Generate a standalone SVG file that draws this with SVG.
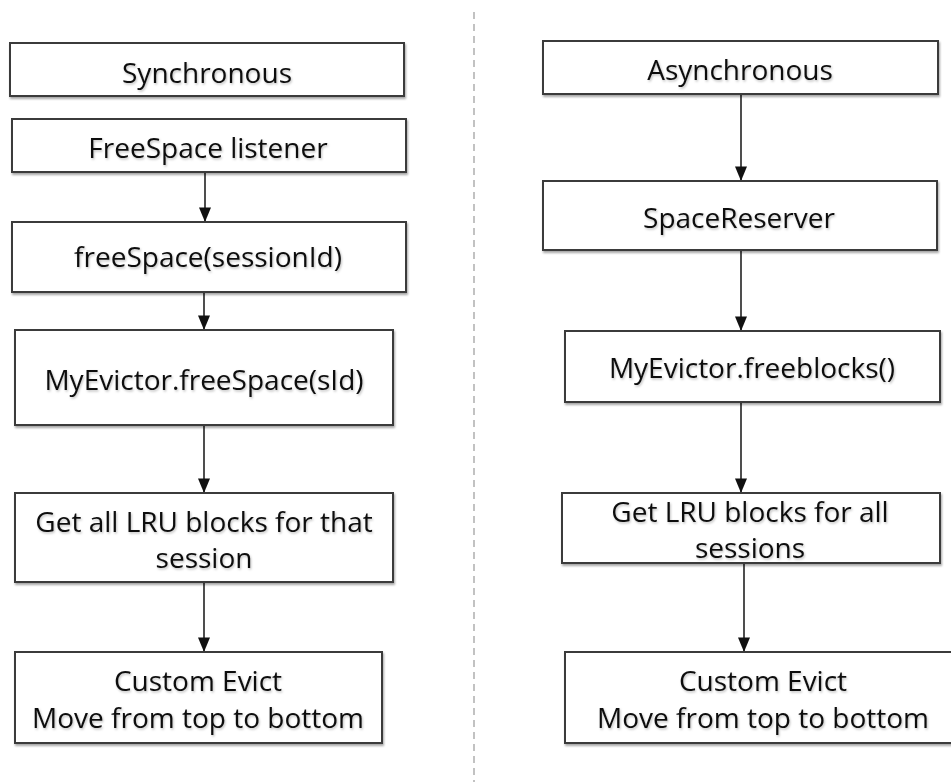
<svg xmlns="http://www.w3.org/2000/svg" width="951" height="782" viewBox="0 0 951 782">
  <style>
    .box { fill: #ffffff; stroke: #3a3a3a; stroke-width: 2; filter: url(#shadow); }
    .lbl { font-family: "Open Sans", "Liberation Sans", sans-serif; font-size: 28px; fill: #111111; text-anchor: middle; filter: url(#tshadow); }
    .edge { fill: none; stroke: #222222; stroke-width: 1.6; marker-end: url(#arrow); }
    .divider { stroke: #9a9a9a; stroke-width: 1.2; stroke-dasharray: 7 5; }
  </style>
  <defs>
    <filter id="shadow" x="-5%" y="-10%" width="110%" height="130%">
      <feDropShadow dx="1" dy="2" stdDeviation="1.2" flood-color="#000" flood-opacity="0.35"/>
    </filter>
    <filter id="tshadow" x="-5%" y="-20%" width="110%" height="140%">
      <feDropShadow dx="1" dy="1.5" stdDeviation="1" flood-color="#000" flood-opacity="0.25"/>
    </filter>
    <marker id="arrow" markerUnits="userSpaceOnUse" markerWidth="15" markerHeight="12" viewBox="0 0 12 10" refX="12" refY="5" orient="auto">
      <path d="M0,0 L12,5 L0,10 z" fill="#111111"/>
    </marker>
  </defs>

  <rect width="951" height="782" fill="#ffffff"/>

  <!-- column divider -->
  <line class="divider" x1="474" y1="12" x2="474" y2="782"/>

  <!-- connectors -->
  <g id="connectors">
    <line class="edge" x1="205" y1="172" x2="205" y2="222"/>
    <line class="edge" x1="204" y1="292" x2="204" y2="330"/>
    <line class="edge" x1="204" y1="425" x2="204" y2="493"/>
    <line class="edge" x1="204" y1="582" x2="204" y2="652"/>
    <line class="edge" x1="741" y1="88" x2="741" y2="181"/>
    <line class="edge" x1="741" y1="250" x2="741" y2="331"/>
    <line class="edge" x1="741" y1="402" x2="741" y2="493"/>
    <line class="edge" x1="744" y1="563" x2="744" y2="652"/>
  </g>

  <!-- synchronous path -->
  <g id="sync-title">
    <rect class="box" x="10" y="43" width="394" height="53"/>
    <text class="lbl" x="207" y="83">Synchronous</text>
  </g>
  <g id="freespace-listener">
    <rect class="box" x="12" y="119" width="394" height="53"/>
    <text class="lbl" x="208" y="158">FreeSpace listener</text>
  </g>
  <g id="freespace-session">
    <rect class="box" x="12" y="222" width="394" height="70"/>
    <text class="lbl" x="208" y="267">freeSpace(sessionId)</text>
  </g>
  <g id="evictor-freespace">
    <rect class="box" x="15" y="330" width="378" height="95"/>
    <text class="lbl" x="204" y="390">MyEvictor.freeSpace(sId)</text>
  </g>
  <g id="lru-session">
    <rect class="box" x="15" y="493" width="378" height="89"/>
    <text class="lbl" x="204" y="532">Get all LRU blocks for that</text>
    <text class="lbl" x="204" y="568">session</text>
  </g>
  <g id="evict-sync">
    <rect class="box" x="15" y="652" width="367" height="91"/>
    <text class="lbl" x="198" y="691">Custom Evict</text>
    <text class="lbl" x="198" y="728">Move from top to bottom</text>
  </g>

  <!-- asynchronous path -->
  <g id="async-title">
    <rect class="box" x="543" y="41" width="395" height="53"/>
    <text class="lbl" x="740" y="80">Asynchronous</text>
  </g>
  <g id="space-reserver">
    <rect class="box" x="543" y="181" width="394" height="69"/>
    <text class="lbl" x="739" y="228">SpaceReserver</text>
  </g>
  <g id="evictor-freeblocks">
    <rect class="box" x="565" y="331" width="375" height="71"/>
    <text class="lbl" x="752" y="378">MyEvictor.freeblocks()</text>
  </g>
  <g id="lru-all">
    <rect class="box" x="562" y="493" width="378" height="70"/>
    <text class="lbl" x="750" y="522">Get LRU blocks for all</text>
    <text class="lbl" x="750" y="558">sessions</text>
  </g>
  <g id="evict-async">
    <rect class="box" x="565" y="652" width="400" height="91"/>
    <text class="lbl" x="763" y="691">Custom Evict</text>
    <text class="lbl" x="763" y="728">Move from top to bottom</text>
  </g>
</svg>
